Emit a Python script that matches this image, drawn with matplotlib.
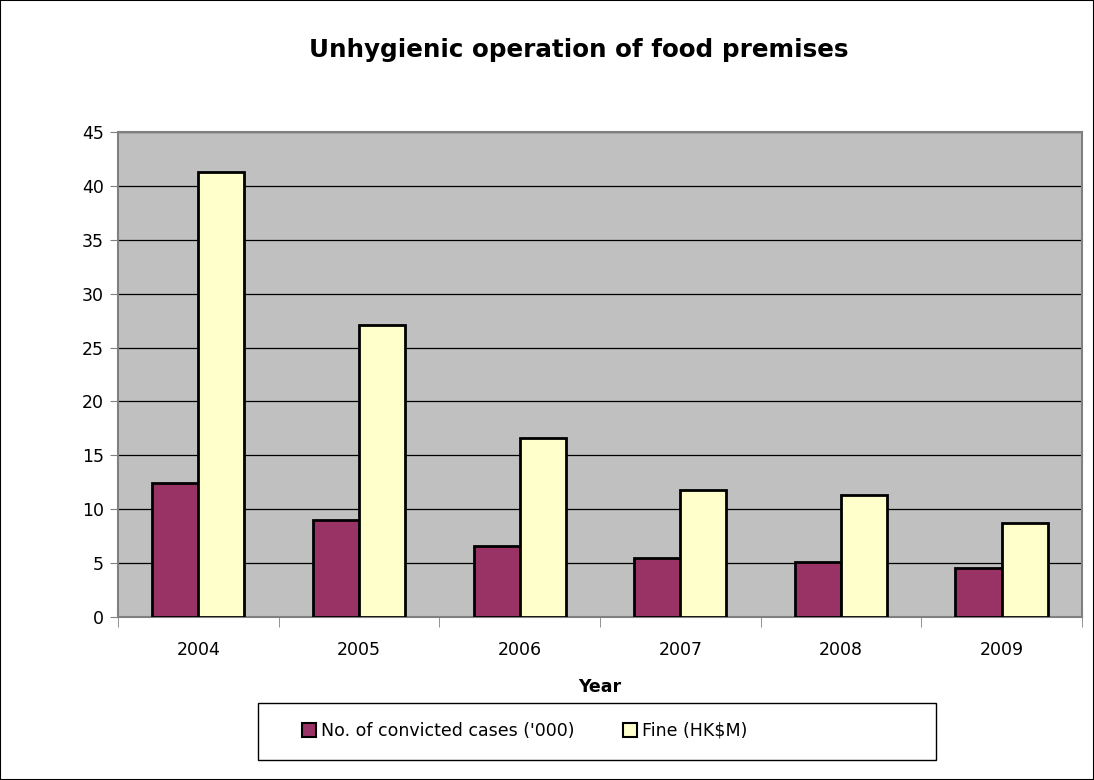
import matplotlib.pyplot as plt
from matplotlib.patches import Rectangle
import numpy as np

years = ['2004', '2005', '2006', '2007', '2008', '2009']
cases = [12.4, 9.0, 6.6, 5.5, 5.1, 4.5]
fines = [41.3, 27.1, 16.6, 11.8, 11.3, 8.7]

plt.rcParams['font.family'] = ['Verdana', 'DejaVu Sans']

fig = plt.figure(figsize=(10.94, 7.8), dpi=100)
ax = fig.add_axes([0.1079, 0.209, 0.881, 0.6218])
ax.set_facecolor('#c0c0c0')

x = np.arange(len(years))
w = 0.287
ax.bar(x - w / 2, cases, w, color='#993366', edgecolor='black', linewidth=2,
       label="No. of convicted cases ('000)", zorder=3)
ax.bar(x + w / 2, fines, w, color='#ffffcc', edgecolor='black', linewidth=2,
       label='Fine (HK$M)', zorder=3)

ax.set_xlim(-0.5, len(years) - 0.5)
ax.set_ylim(0, 45)
ax.set_yticks(range(0, 46, 5))
ax.yaxis.grid(True, color='black', linewidth=0.9, zorder=1)
ax.set_axisbelow(True)

ax.set_xticks(x)
ax.set_xticklabels(years)
ax.set_xticks(np.arange(-0.5, len(years), 1), minor=True)
ax.tick_params(axis='x', which='major', length=0, labelsize=12.5, pad=17)
ax.tick_params(axis='x', which='minor', length=7, color='#808080', direction='out')
ax.tick_params(axis='y', length=6, color='#808080', labelsize=12.5, pad=4)

for s in ax.spines.values():
    s.set_color('#808080')
    s.set_linewidth(1.5)

ax.set_xlabel('Year', fontsize=12.5, fontweight='bold', labelpad=14)
fig.text(0.529, 0.936, 'Unhygienic operation of food premises', ha='center',
         va='center', fontsize=17.7, fontweight='bold')

# legend box drawn separately, entries placed inside it
fig.patches.append(Rectangle((258 / 1094, 1 - 760 / 780), 678 / 1094, 57 / 780,
                             transform=fig.transFigure, fill=False,
                             edgecolor='black', linewidth=1.0))
leg = fig.legend(loc='center left', bbox_to_anchor=(302 / 1094, 1 - 731 / 780),
                 ncol=2, frameon=False, handlelength=0.8, handleheight=0.8,
                 handletextpad=0.3, columnspacing=2.8, borderpad=0,
                 borderaxespad=0, fontsize=12.5)
for p in leg.get_patches():
    p.set_linewidth(1.5)

fig.patches.append(Rectangle((0, 0), 1, 1, transform=fig.transFigure,
                             fill=False, edgecolor='black', linewidth=1.5))

fig.savefig('out.png', dpi=100)
